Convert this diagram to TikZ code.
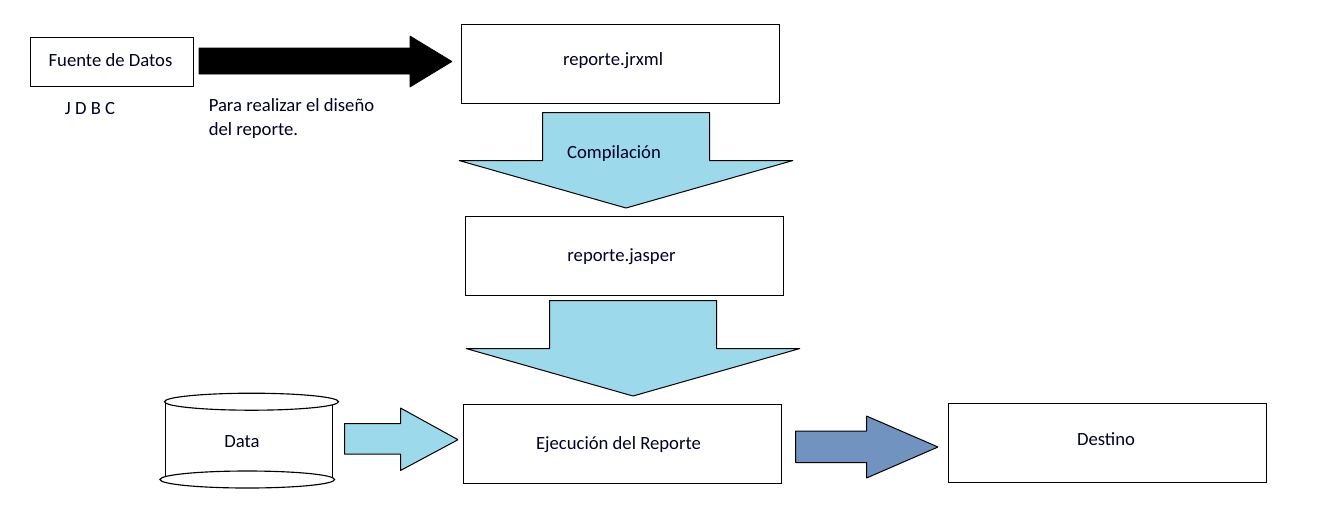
\documentclass[tikz,border=0pt]{standalone}
\usepackage{fontspec}
\setmainfont{Carlito}
\definecolor{lightarrow}{HTML}{9BD9EB}
\definecolor{bluearrow}{HTML}{7093BF}
\tikzset{
  x=0.75pt,y=-0.75pt,
  boxshape/.style={draw=black,line width=0.85pt,fill=white,rectangle},
  blockarrow/.style={draw=black,line width=0.75pt,line join=bevel,fill=lightarrow},
  label/.style={anchor=base,inner sep=0pt,font=\fontsize{14}{16}\selectfont,text=black!85!blue},
  leftlabel/.style={label,anchor=base west},
  cyl/.style={draw=black,line width=0.85pt,fill=white}
}
\newcommand{\boxat}[5]{\path[boxshape] (#2,#3) rectangle (#4,#5);
  \coordinate (#1) at (#2,#3);}
\begin{document}
\begin{tikzpicture}
\useasboundingbox (0,0) rectangle (1319,526);
\fill[white] (0,0) rectangle (1319,526);
% boxes
\boxat{fuente}{30.5}{37.5}{193.5}{86.5}
\boxat{jrxml}{461.5}{24.5}{779.5}{103.5}
\boxat{jasper}{465.5}{216.5}{783.5}{295.5}
\boxat{ejec}{463.5}{404.5}{781.5}{483.5}
\boxat{destino}{948.5}{403.5}{1266.5}{482.5}
% black arrow
\path[fill=black,draw=black,line width=0.5pt,line join=bevel] (199,48) -- (410,48) -- (410,36) -- (452,61.5) -- (410,87) -- (410,74) -- (199,74) -- cycle;
% down arrows
\path[blockarrow] (542.5,112.5) -- (709.5,112.5) -- (709.5,160.5) -- (793,160.5) -- (626,208) -- (459,160.5) -- (542.5,160.5) -- cycle;
\path[blockarrow] (549.5,300.5) -- (716.5,300.5) -- (716.5,348.5) -- (800,348.5) -- (633,396) -- (466,348.5) -- (549.5,348.5) -- cycle;
% right arrows
\path[blockarrow] (344.5,423.5) -- (400.5,423.5) -- (400.5,408) -- (458,439.7) -- (400.5,470.5) -- (400.5,454) -- (344.5,454) -- cycle;
\path[blockarrow,fill=bluearrow] (795.5,431) -- (866.5,431) -- (866.5,416) -- (938,447) -- (866.5,478) -- (866.5,462.5) -- (795.5,462.5) -- cycle;
% cylinder
\draw[cyl] (165.3,401.7) -- (165.3,479) (332.7,401.7) -- (332.7,479);
\draw[cyl] (251.5,401.7) ellipse [x radius=87,y radius=8.5];
\draw[cyl] (247.3,479.5) ellipse [x radius=87.3,y radius=8.5];
% text
\node[label] (tfuente) at (110.5,66.5) {Fuente de Datos};
\node[label] (tjdbc) at (90,114.5) {J D B C};
\node[leftlabel] (tpara) at (208.5,111.5) {Para realizar el diseño};
\node[leftlabel] (tdel) at (208.5,135.5) {del reporte.};
\node[label] (tjrxml) at (613,65) {reporte.jrxml};
\node[label] (tcomp) at (614,158.5) {Compilación};
\node[label] (tjasper) at (621.5,261.5) {reporte.jasper};
\node[label] (tdata) at (242,447.5) {Data};
\node[label] (tejec) at (618.5,449.5) {Ejecución del Reporte};
\node[label] (tdest) at (1106,445.5) {Destino};
\end{tikzpicture}
\end{document}
